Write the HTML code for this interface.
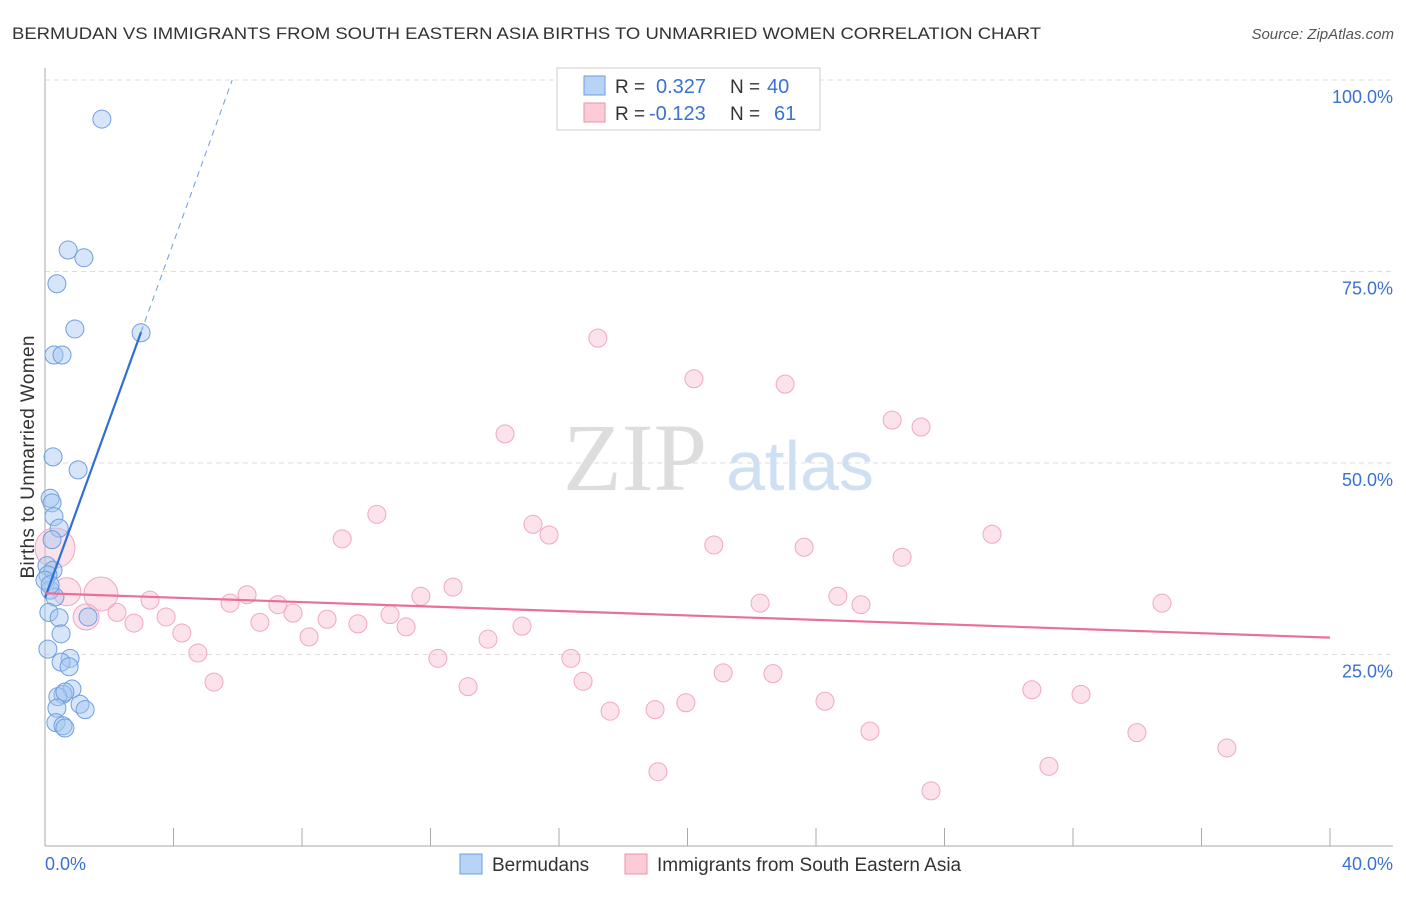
<!DOCTYPE html>
<html><head><meta charset="utf-8"><style>
body{margin:0;background:#fff;font-family:"Liberation Sans",sans-serif;}
svg text{font-family:"Liberation Sans",sans-serif;}
</style></head><body>
<svg id="chart" width="1406" height="892" xmlns="http://www.w3.org/2000/svg">
<text x="12" y="39" font-size="17" fill="#333" textLength="1029" lengthAdjust="spacingAndGlyphs">BERMUDAN VS IMMIGRANTS FROM SOUTH EASTERN ASIA BIRTHS TO UNMARRIED WOMEN CORRELATION CHART</text>
<text x="1394" y="39" font-size="15" fill="#555" text-anchor="end" font-style="italic">Source: ZipAtlas.com</text>
<g>
<text x="635" y="490" font-size="96" fill="#ddd" text-anchor="middle" style="font-family:'Liberation Serif',serif">ZIP</text>
<text x="800" y="490" font-size="70" fill="#cfe0f5" text-anchor="middle">atlas</text>
</g>
<g id="grid"></g>
<g id="axes"></g>
<g id="points"></g>
<g id="trends"></g>
<text transform="translate(34,457) rotate(-90)" font-size="19" fill="#333" text-anchor="middle" textLength="243">Births to Unmarried Women</text>
<g>
<rect x="557" y="68" width="263" height="62" fill="#fff" stroke="#ccc"/>
<rect x="584" y="76" width="21" height="19" fill="#b8d3f5" stroke="#6a9de0"/>
<rect x="584" y="103" width="21" height="19" fill="#fbcbd8" stroke="#eb90ab"/>
<text x="615" y="93" font-size="19" fill="#333">R =</text>
<text x="656" y="93" font-size="20" fill="#3a72d0">0.327</text>
<text x="730" y="93" font-size="19" fill="#333">N =</text>
<text x="767" y="93" font-size="20" fill="#3a72d0">40</text>
<text x="615" y="120" font-size="19" fill="#333">R =</text>
<text x="649" y="120" font-size="20" fill="#3a72d0">-0.123</text>
<text x="730" y="120" font-size="19" fill="#333">N =</text>
<text x="774" y="120" font-size="20" fill="#3a72d0">61</text>
</g>
<g>
<rect x="460" y="854" width="22" height="20" fill="#b8d3f5" stroke="#6a9de0"/>
<text x="492" y="871" font-size="19" fill="#333">Bermudans</text>
<rect x="625" y="854" width="22" height="20" fill="#fbcbd8" stroke="#eb90ab"/>
<text x="657" y="871" font-size="19" fill="#333">Immigrants from South Eastern Asia</text>
</g>
</svg>
<script>
const blueX=[1.77,0.72,1.21,0.37,0.93,2.99,0.28,0.53,0.25,1.03,0.16,0.22,0.28,0.44,0.06,0.25,0.09,0.16,0.31,0.12,0.44,1.34,0.50,0.09,0.78,0.50,0.75,0.84,0.56,0.40,0.62,0.37,1.09,1.25,0.34,0.56,0.62,0.0,0.22,0.16];
const blueY=[94.9,77.8,76.8,73.4,67.5,67.0,64.1,64.1,50.8,49.1,45.4,44.8,43.0,41.5,36.6,36.0,35.4,33.4,32.5,30.5,29.8,29.9,27.7,25.7,24.5,24.0,23.4,20.5,19.8,19.5,20.1,18.0,18.5,17.8,16.1,15.7,15.4,34.7,40.0,34.1];
const pinkX=[17.21,20.20,23.04,14.32,26.37,27.27,10.33,15.19,15.69,9.25,20.82,23.63,29.48,26.68,12.70,11.70,6.29,3.27,5.76,7.25,7.72,10.74,8.78,9.74,11.24,14.85,4.26,8.22,3.77,2.24,2.77,6.69,13.79,12.23,16.37,4.76,5.26,13.17,16.75,21.11,22.66,17.59,18.99,19.95,24.28,25.68,30.72,32.25,33.99,36.79,31.25,27.58,19.08,22.26,24.68,25.40,34.77,1.74,1.28,0.31,0.68];
const pinkY=[66.3,61.0,60.3,53.8,55.6,54.7,43.3,42.0,40.6,40.1,39.3,39.0,40.7,37.7,33.8,32.6,32.8,32.1,31.7,31.5,30.4,30.2,29.6,29.0,28.6,28.7,27.8,27.3,29.9,30.5,29.1,29.2,27.0,24.5,24.5,25.2,21.4,20.8,21.5,22.6,22.5,17.6,17.8,18.7,18.9,15.0,20.4,19.8,14.8,12.8,10.4,7.2,9.7,31.7,32.6,31.5,31.7,32.9,29.9,38.9,33.2];
const pinkSize=[9,9,9,9,9,9,9,9,9,9,9,9,9,9,9,9,9,9,9,9,9,9,9,9,9,9,9,9,9,9,9,9,9,9,9,9,9,9,9,9,9,9,9,9,9,9,9,9,9,9,9,9,9,9,9,9,9,17,13,20,14];
const yTicks=[100,75,50,25];
const yTickLabels=["100.0%","75.0%","50.0%","25.0%"];
const xTickCount=10;
const blueTrend=[32.4,11.6];
const pinkTrend=[33.0,27.2];
const NS="http://www.w3.org/2000/svg";
const X0=45,X1=1330,Y0=846,YS=7.66;
const sx=v=>X0+v/40*(X1-X0), sy=v=>Y0-v*YS;
function mk(tag,attrs,parent){const e=document.createElementNS(NS,tag);for(const k in attrs)e.setAttribute(k,attrs[k]);document.getElementById(parent).appendChild(e);return e;}
yTicks.forEach((t,i)=>{
 let l=mk('line',{x1:45,x2:1393,y1:sy(t),y2:sy(t),stroke:'#ddd','stroke-dasharray':'5,4'},'grid');
 
 
 let tx=mk('text',{x:1393,y:sy(t)+23,'font-size':18,fill:'#3a72d0','text-anchor':'end'},'grid');
 tx.textContent=yTickLabels[i];
 
 
});
let ax=mk('line',{x1:45,x2:45,y1:68,y2:846,stroke:'#aaa'},'axes');


let bx=mk('line',{x1:45,x2:1393,y1:846,y2:846,stroke:'#aaa'},'axes');


for(let i=0;i<=xTickCount;i++){
 let t=mk('line',{x1:sx(i*4),x2:sx(i*4),y1:828,y2:846,stroke:'#aaa'},'axes');
 
 
}
let l0=mk('text',{x:45,y:870,'font-size':18,fill:'#3a72d0'},'axes');l0.textContent='0.0%';


let l1=mk('text',{x:1393,y:870,'font-size':18,fill:'#3a72d0','text-anchor':'end'},'axes');l1.textContent='40.0%';


pinkX.forEach((x,i)=>{
 let c=mk('circle',{cx:sx(x),cy:sy(pinkY[i]),r:pinkSize[i],fill:'rgba(248,185,205,0.4)',stroke:'#f0a8bf','stroke-width':1},'points');
 
 
});
blueX.forEach((x,i)=>{
 let c=mk('circle',{cx:sx(x),cy:sy(blueY[i]),r:9,fill:'rgba(165,198,240,0.45)',stroke:'#6f9fe2','stroke-width':1},'points');
 
 
});
const bEnd=Math.max(...blueX);
let bt=mk('line',{x1:sx(0),y1:sy(blueTrend[0]),x2:sx(bEnd),y2:sy(blueTrend[0]+blueTrend[1]*bEnd),stroke:'#2f6fd6','stroke-width':2.2},'trends');


const xTop=(100-blueTrend[0])/blueTrend[1];
let bd=mk('line',{x1:sx(bEnd),y1:sy(blueTrend[0]+blueTrend[1]*bEnd),x2:sx(xTop),y2:sy(100),stroke:'#6a9de0','stroke-width':1,'stroke-dasharray':'6,5'},'trends');


let pt=mk('line',{x1:sx(0),y1:sy(pinkTrend[0]),x2:sx(40),y2:sy(pinkTrend[1]),stroke:'#e8709a','stroke-width':2.2},'trends');


</script>
</body></html>
